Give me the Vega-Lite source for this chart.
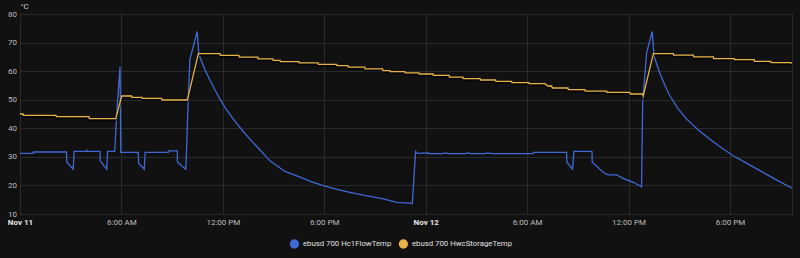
{
  "$schema": "https://vega.github.io/schema/vega-lite/v6.json",
  "autosize": "none",
  "width": 772,
  "height": 200,
  "padding": {"left": 20, "top": 14, "right": 8, "bottom": 44},
  "background": "#111111",
  "config": {
    "font": "Roboto",
    "view": {"stroke": "#2a2a2a", "strokeWidth": 1},
    "axis": {"gridColor": "#2a2a2a", "gridWidth": 1, "domain": false, "ticks": false, "labelFont": "Roboto", "labelFontSize": 8, "labelColor": "#bdbdbd"}
  },
  "datasets": {
    "flow": [
      {"h": 0, "v": 31.2}, {"h": 0.783, "v": 31.2}, {"h": 0.8, "v": 31.7}, {"h": 2.75, "v": 31.7},
      {"h": 2.767, "v": 28.1}, {"h": 3.15, "v": 25.7}, {"h": 3.2, "v": 31.9}, {"h": 3.917, "v": 31.9},
      {"h": 3.95, "v": 32.3}, {"h": 4, "v": 31.9}, {"h": 4.733, "v": 31.9}, {"h": 4.75, "v": 28.6},
      {"h": 5.133, "v": 25.7}, {"h": 5.183, "v": 31.9}, {"h": 5.6, "v": 31.9}, {"h": 5.75, "v": 47.5},
      {"h": 5.917, "v": 61.5}, {"h": 5.967, "v": 31.6}, {"h": 7, "v": 31.6}, {"h": 7.017, "v": 27.8},
      {"h": 7.35, "v": 25.7}, {"h": 7.4, "v": 31.6}, {"h": 8.767, "v": 31.6}, {"h": 8.783, "v": 32.1},
      {"h": 9.3, "v": 32.1}, {"h": 9.317, "v": 28.1}, {"h": 9.8, "v": 25.7}, {"h": 9.833, "v": 29.0},
      {"h": 9.933, "v": 47.0}, {"h": 10.05, "v": 64.1}, {"h": 10.483, "v": 73.9}, {"h": 10.583, "v": 65.8},
      {"h": 10.943, "v": 60.5}, {"h": 11.239, "v": 56.8}, {"h": 11.535, "v": 53.4}, {"h": 11.831, "v": 50.2},
      {"h": 12.227, "v": 46.4}, {"h": 12.618, "v": 43.2}, {"h": 13.115, "v": 39.5}, {"h": 13.606, "v": 36.2},
      {"h": 14.197, "v": 32.4}, {"h": 14.789, "v": 28.6}, {"h": 15.676, "v": 24.9}, {"h": 16.563, "v": 22.9},
      {"h": 17.214, "v": 21.3}, {"h": 17.942, "v": 19.9}, {"h": 18.693, "v": 18.7}, {"h": 19.521, "v": 17.6},
      {"h": 20.468, "v": 16.4}, {"h": 21.491, "v": 15.3}, {"h": 22.284, "v": 14.1}, {"h": 23.07, "v": 13.8},
      {"h": 23.206, "v": 13.6}, {"h": 23.4, "v": 31.9}, {"h": 23.5, "v": 31.2}, {"h": 24.167, "v": 31.4},
      {"h": 24.25, "v": 31.1}, {"h": 25, "v": 31.1}, {"h": 25.167, "v": 31.4}, {"h": 25.333, "v": 31.1},
      {"h": 26.333, "v": 31.1}, {"h": 26.5, "v": 31.4}, {"h": 26.667, "v": 31.1}, {"h": 27.5, "v": 31.1},
      {"h": 27.667, "v": 31.4}, {"h": 27.917, "v": 31.1}, {"h": 30.367, "v": 31.1}, {"h": 30.383, "v": 31.6},
      {"h": 32.333, "v": 31.6}, {"h": 32.35, "v": 28.1}, {"h": 32.683, "v": 25.7}, {"h": 32.767, "v": 31.9},
      {"h": 33.833, "v": 31.9}, {"h": 33.85, "v": 28.1}, {"h": 34.5, "v": 24.6}, {"h": 34.783, "v": 23.7},
      {"h": 35.3, "v": 23.7}, {"h": 35.667, "v": 22.5}, {"h": 36.283, "v": 21.1}, {"h": 36.717, "v": 19.7},
      {"h": 36.767, "v": 19.5}, {"h": 36.833, "v": 49.0}, {"h": 37.067, "v": 66.4}, {"h": 37.4, "v": 73.9},
      {"h": 37.504, "v": 65.2}, {"h": 37.858, "v": 59.2}, {"h": 38.154, "v": 55.0}, {"h": 38.45, "v": 51.3},
      {"h": 38.923, "v": 46.9}, {"h": 39.438, "v": 43.2}, {"h": 40.106, "v": 39.5}, {"h": 40.816, "v": 36.2},
      {"h": 41.467, "v": 33.3}, {"h": 42.195, "v": 30.4}, {"h": 42.946, "v": 27.9}, {"h": 43.774, "v": 25.2},
      {"h": 44.661, "v": 22.2}, {"h": 45.667, "v": 19.0}
    ],
    "storage": [
      {"h": 0, "v": 45.0}, {"h": 0.183, "v": 45.0}, {"h": 0.2, "v": 44.5}, {"h": 2.133, "v": 44.5},
      {"h": 2.15, "v": 44.1}, {"h": 4.083, "v": 44.1}, {"h": 4.1, "v": 43.4}, {"h": 5.667, "v": 43.4},
      {"h": 6.017, "v": 51.3}, {"h": 6.6, "v": 51.3}, {"h": 6.617, "v": 50.8}, {"h": 7.217, "v": 50.8},
      {"h": 7.233, "v": 50.5}, {"h": 8.383, "v": 50.5}, {"h": 8.4, "v": 49.9}, {"h": 9.9, "v": 49.9},
      {"h": 10.55, "v": 66.1}, {"h": 11.833, "v": 66.1}, {"h": 11.85, "v": 65.5}, {"h": 12.95, "v": 65.5},
      {"h": 12.967, "v": 64.9}, {"h": 14.067, "v": 64.9}, {"h": 14.083, "v": 64.3}, {"h": 14.967, "v": 64.3},
      {"h": 14.983, "v": 63.8}, {"h": 15.383, "v": 63.8}, {"h": 15.4, "v": 63.3}, {"h": 16.5, "v": 63.3},
      {"h": 16.517, "v": 62.9}, {"h": 17.633, "v": 62.9}, {"h": 17.65, "v": 62.4}, {"h": 18.733, "v": 62.4},
      {"h": 18.75, "v": 61.9}, {"h": 19.4, "v": 61.9}, {"h": 19.417, "v": 61.4}, {"h": 20.4, "v": 61.4},
      {"h": 20.417, "v": 60.8}, {"h": 21.45, "v": 60.8}, {"h": 21.467, "v": 60.2}, {"h": 21.883, "v": 60.2},
      {"h": 21.9, "v": 59.8}, {"h": 22.767, "v": 59.8}, {"h": 22.783, "v": 59.4}, {"h": 23.6, "v": 59.4},
      {"h": 23.617, "v": 59.0}, {"h": 24.433, "v": 59.0}, {"h": 24.45, "v": 58.5}, {"h": 25.383, "v": 58.5},
      {"h": 25.4, "v": 57.9}, {"h": 26.2, "v": 57.9}, {"h": 26.217, "v": 57.35}, {"h": 27.217, "v": 57.35},
      {"h": 27.233, "v": 56.9}, {"h": 28.133, "v": 56.9}, {"h": 28.15, "v": 56.4}, {"h": 29.083, "v": 56.4},
      {"h": 29.1, "v": 55.96}, {"h": 30.1, "v": 55.96}, {"h": 30.117, "v": 55.6}, {"h": 31.05, "v": 55.6},
      {"h": 31.217, "v": 54.8}, {"h": 31.45, "v": 54.8}, {"h": 31.483, "v": 54.1}, {"h": 32.417, "v": 54.1},
      {"h": 32.433, "v": 53.5}, {"h": 33.417, "v": 53.5}, {"h": 33.433, "v": 53.0}, {"h": 34.7, "v": 53.0},
      {"h": 34.717, "v": 52.6}, {"h": 36.083, "v": 52.6}, {"h": 36.1, "v": 52.0}, {"h": 36.833, "v": 52.0},
      {"h": 36.867, "v": 51.3}, {"h": 37.467, "v": 66.1}, {"h": 38.65, "v": 66.1}, {"h": 38.667, "v": 65.6},
      {"h": 39.833, "v": 65.6}, {"h": 39.85, "v": 65.0}, {"h": 41.017, "v": 65.0}, {"h": 41.033, "v": 64.4},
      {"h": 42.25, "v": 64.4}, {"h": 42.267, "v": 64.0}, {"h": 43.433, "v": 64.0}, {"h": 43.45, "v": 63.4},
      {"h": 44.417, "v": 63.4}, {"h": 44.433, "v": 63.0}, {"h": 45.6, "v": 63.0}, {"h": 45.65, "v": 62.6}
    ]
  },
  "encoding": {
    "x": {
      "field": "h", "type": "quantitative",
      "scale": {"domain": [0, 45.667], "nice": false, "zero": false},
      "axis": {
        "title": null,
        "values": [0, 6, 12, 18, 24, 30, 36, 42],
        "labelExpr": "datum.value == 0 ? 'Nov 11' : datum.value == 24 ? 'Nov 12' : (datum.value % 24 == 6 ? '6:00 AM' : datum.value % 24 == 12 ? '12:00 PM' : '6:00 PM')",
        "labelFontWeight": {"condition": {"test": "datum.value % 24 == 0", "value": "bold"}, "value": "normal"},
        "labelColor": {"condition": {"test": "datum.value % 24 == 0", "value": "#e6e6e6"}, "value": "#bdbdbd"},
        "labelPadding": 4,
        "labelOverlap": false,
        "labelFlush": false
      }
    },
    "y": {
      "field": "v", "type": "quantitative",
      "scale": {"domain": [10, 80], "nice": false, "zero": false},
      "axis": {
        "values": [10, 20, 30, 40, 50, 60, 70, 80],
        "title": "°C",
        "titleAngle": 0,
        "titleAlign": "left",
        "titleBaseline": "middle",
        "titleX": 0,
        "titleY": -8,
        "titleFont": "Roboto",
        "titleFontSize": 8,
        "titleFontWeight": "normal",
        "titleColor": "#cfcfcf",
        "labelPadding": 3.5
      }
    }
  },
  "layer": [
    {
      "data": {"name": "flow"},
      "mark": {"type": "line", "strokeWidth": 1.3, "clip": true},
      "encoding": {
        "color": {
          "datum": "ebusd 700 Hc1FlowTemp", "type": "nominal",
          "scale": {"domain": ["ebusd 700 Hc1FlowTemp", "ebusd 700 HwcStorageTemp"], "range": ["#4169d6", "#e8b447"]},
          "legend": {
            "title": null,
            "orient": "none",
            "direction": "horizontal",
            "legendX": 269.4,
            "legendY": 225,
            "padding": 0,
            "gridAlign": "none",
            "symbolType": "circle",
            "symbolSize": 86,
            "symbolStrokeWidth": 0,
            "labelFont": "Roboto",
            "labelFontSize": 7.8,
            "labelColor": "#e0e0e0",
            "labelOffset": 3.5,
            "columnPadding": 7,
            "encode": {"symbols": {"update": {"fill": {"scale": "color", "field": "value"}, "fillOpacity": {"value": 1}}}}
          }
        }
      }
    },
    {
      "data": {"name": "storage"},
      "mark": {"type": "line", "strokeWidth": 2, "clip": true, "color": "#000000", "opacity": 0.6, "yOffset": 1.6}
    },
    {
      "data": {"name": "storage"},
      "mark": {"type": "line", "strokeWidth": 1.3, "clip": true},
      "encoding": {"color": {"datum": "ebusd 700 HwcStorageTemp", "type": "nominal"}}
    }
  ]
}
